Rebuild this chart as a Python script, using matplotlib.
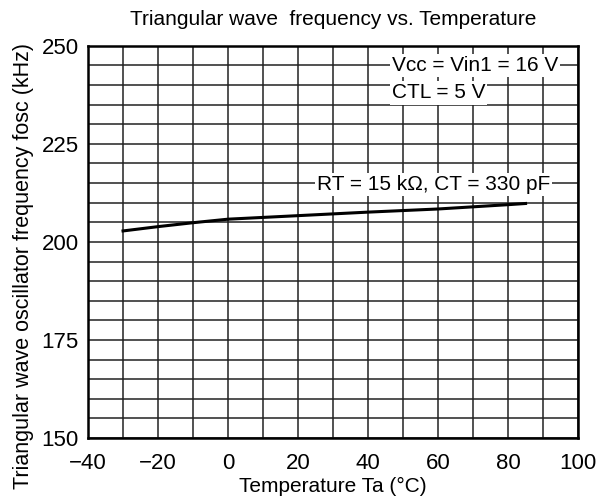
import numpy as np
import matplotlib
matplotlib.use('Agg')
import matplotlib.pyplot as plt

plt.rcParams['font.family'] = ['Liberation Sans', 'DejaVu Sans']

# curve
temp = [-30, -20, -10, 0, 20, 40, 60, 80, 85]
freq = [202.8, 203.9, 204.9, 205.8, 206.7, 207.6, 208.4, 209.5, 209.8]

x_ticks = [-40, -20, 0, 20, 40, 60, 80, 100]
y_ticks = [150, 175, 200, 225, 250]

fig = plt.figure(figsize=(6.05, 5.04), dpi=100)
ax = fig.add_axes([0.1455, 0.131, 0.810, 0.778])

ax.set_xlim(-40, 100)
ax.set_ylim(150, 250)
ax.set_xticks(x_ticks)
ax.set_yticks(y_ticks)
ax.set_xticks(np.arange(-40, 101, 10), minor=True)
ax.set_yticks(np.arange(150, 251, 5), minor=True)
ax.grid(which='both', color='#222222', linewidth=1.1)
ax.tick_params(which='both', length=0, labelsize=16)
ax.tick_params(axis='y', pad=6.5)
ax.tick_params(axis='x', pad=11)
for s in ax.spines.values():
    s.set_linewidth(1.8)
ax.set_axisbelow(True)

ax.plot(temp, freq, color='black', linewidth=2.2, zorder=3)

box = dict(facecolor='white', edgecolor='none', pad=1.5)
ax.text(46.8, 245, 'Vcc = Vin1 = 16 V', fontsize=15, ha='left', va='center', bbox=box, zorder=4)
ax.text(46.8, 238.0, 'CTL = 5 V', fontsize=15, ha='left', va='center', bbox=box, zorder=4)
ax.text(25.4, 214.6, 'RT = 15 k\u03a9, CT = 330 pF', fontsize=15, ha='left', va='center', bbox=box, zorder=4)

ax.set_title('Triangular wave  frequency vs. Temperature', fontsize=15, pad=15)
ax.set_xlabel('Temperature Ta (\u00b0C)', fontsize=15, labelpad=2)
ax.set_ylabel('Triangular wave oscillator frequency fosc (kHz)', fontsize=15.5, labelpad=3)
ax.yaxis.set_label_coords(-0.11, 0.439)

fig.savefig('out.png', dpi=100)
